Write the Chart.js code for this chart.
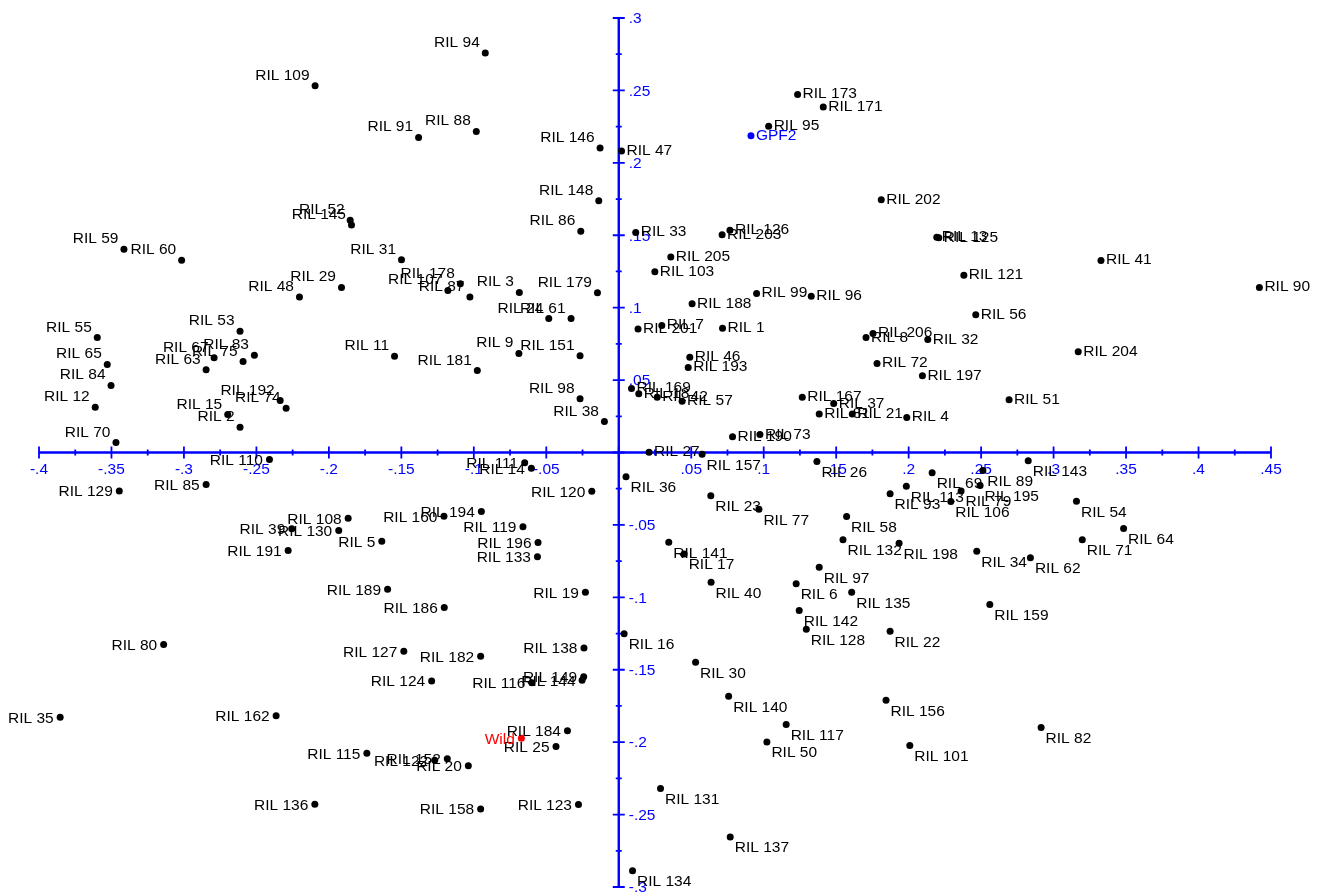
<!DOCTYPE html>
<html>
<head>
<meta charset="utf-8">
<title>RIL biplot</title>
<script src="https://cdn.jsdelivr.net/npm/chart.js@4.4.1/dist/chart.umd.min.js"></script>
<style>
  html, body { margin: 0; padding: 0; background: #fff; }
  #wrap { width: 1320px; height: 892px; position: relative; }
</style>
</head>
<body>
<div id="wrap"><canvas id="biplot"></canvas></div>
<script>
// RIL lines: names and their scores on the two axes
const rilNames = [
  'RIL 94', 'RIL 109', 'RIL 91', 'RIL 88', 'RIL 146', 'RIL 148', 'RIL 86', 'RIL 52', 'RIL 145', 'RIL 59',
  'RIL 60', 'RIL 31', 'RIL 29', 'RIL 48', 'RIL 178', 'RIL 107', 'RIL 87', 'RIL 3', 'RIL 179', 'RIL 24',
  'RIL 61', 'RIL 9', 'RIL 151', 'RIL 181', 'RIL 11', 'RIL 98', 'RIL 38', 'RIL 53', 'RIL 83', 'RIL 75',
  'RIL 67', 'RIL 63', 'RIL 55', 'RIL 65', 'RIL 84', 'RIL 12', 'RIL 70', 'RIL 192', 'RIL 74', 'RIL 15',
  'RIL 2', 'RIL 110', 'RIL 129', 'RIL 85', 'RIL 111', 'RIL 14', 'RIL 120', 'RIL 194', 'RIL 160', 'RIL 119',
  'RIL 196', 'RIL 133', 'RIL 19', 'RIL 108', 'RIL 39', 'RIL 130', 'RIL 5', 'RIL 191', 'RIL 189', 'RIL 186',
  'RIL 80', 'RIL 127', 'RIL 124', 'RIL 182', 'RIL 138', 'RIL 116', 'RIL 144', 'RIL 149', 'RIL 184', 'RIL 25',
  'RIL 20', 'RIL 152', 'RIL 122', 'RIL 115', 'RIL 162', 'RIL 35', 'RIL 136', 'RIL 158', 'RIL 123', 'RIL 47',
  'RIL 95', 'RIL 173', 'RIL 171', 'RIL 202', 'RIL 13', 'RIL 125', 'RIL 121', 'RIL 41', 'RIL 90', 'RIL 33',
  'RIL 126', 'RIL 203', 'RIL 205', 'RIL 103', 'RIL 188', 'RIL 99', 'RIL 96', 'RIL 56', 'RIL 206', 'RIL 8',
  'RIL 32', 'RIL 204', 'RIL 72', 'RIL 197', 'RIL 51', 'RIL 4', 'RIL 21', 'RIL 37', 'RIL 167', 'RIL 81',
  'RIL 1', 'RIL 201', 'RIL 7', 'RIL 46', 'RIL 193', 'RIL 169', 'RIL 18', 'RIL 42', 'RIL 57', 'RIL 190',
  'RIL 73', 'RIL 27', 'RIL 157', 'RIL 26', 'RIL 36', 'RIL 23', 'RIL 77', 'RIL 141', 'RIL 17', 'RIL 40',
  'RIL 58', 'RIL 132', 'RIL 97', 'RIL 6', 'RIL 135', 'RIL 142', 'RIL 128', 'RIL 30', 'RIL 140', 'RIL 117',
  'RIL 50', 'RIL 131', 'RIL 137', 'RIL 134', 'RIL 16', 'RIL 22', 'RIL 156', 'RIL 101', 'RIL 82', 'RIL 159',
  'RIL 198', 'RIL 34', 'RIL 62', 'RIL 71', 'RIL 64', 'RIL 54', 'RIL 143', 'RIL 89', 'RIL 69', 'RIL 195',
  'RIL 113', 'RIL 93', 'RIL 79', 'RIL 106'
];
const rilX = [
  -0.0921, -0.2095, -0.1381, -0.0983, -0.0129, -0.0138, -0.0262, -0.1853, -0.1844, -0.3414,
  -0.3016, -0.1499, -0.1913, -0.2203, -0.1093, -0.1179, -0.1027, -0.0686, -0.0147, -0.0483,
  -0.0329, -0.0689, -0.0267, -0.0976, -0.1547, -0.0267, -0.0099, -0.2613, -0.2514, -0.2592,
  -0.2792, -0.2847, -0.3598, -0.3529, -0.3503, -0.3612, -0.3469, -0.2336, -0.2295, -0.2698,
  -0.2613, -0.2410, -0.3446, -0.2847, -0.0649, -0.0603, -0.0186, -0.0948, -0.1206, -0.0661,
  -0.0557, -0.0561, -0.0230, -0.1867, -0.2256, -0.1932, -0.1635, -0.2281, -0.1595, -0.1204,
  -0.3140, -0.1483, -0.1291, -0.0953, -0.0240, -0.0599, -0.0253, -0.0242, -0.0354, -0.0433,
  -0.1038, -0.1183, -0.1270, -0.1738, -0.2364, -0.3854, -0.2097, -0.0953, -0.0278, 0.0019,
  0.1034, 0.1234, 0.1411, 0.1811, 0.2194, 0.2208, 0.2381, 0.3327, 0.4420, 0.0117,
  0.0767, 0.0713, 0.0359, 0.0249, 0.0506, 0.0951, 0.1328, 0.2463, 0.1754, 0.1706,
  0.2132, 0.3170, 0.1782, 0.2095, 0.2693, 0.1987, 0.1611, 0.1483, 0.1266, 0.1383,
  0.0716, 0.0133, 0.0297, 0.0490, 0.0479, 0.0088, 0.0138, 0.0265, 0.0437, 0.0785,
  0.0974, 0.0209, 0.0575, 0.1367, 0.0050, 0.0635, 0.0967, 0.0345, 0.0451, 0.0637,
  0.1572, 0.1547, 0.1383, 0.1224, 0.1607, 0.1245, 0.1294, 0.0530, 0.0758, 0.1155,
  0.1022, 0.0288, 0.0769, 0.0095, 0.0037, 0.1872, 0.1844, 0.2008, 0.2914, 0.2560,
  0.1934, 0.2470, 0.2840, 0.3198, 0.3483, 0.3158, 0.2825, 0.2512, 0.2162, 0.2493,
  0.1984, 0.1872, 0.2362, 0.2291
];
const rilY = [
  0.2758, 0.2532, 0.2175, 0.2217, 0.2102, 0.1738, 0.1528, 0.1604, 0.1570, 0.1404,
  0.1328, 0.1331, 0.1140, 0.1073, 0.1165, 0.1119, 0.1073, 0.1105, 0.1103, 0.0925,
  0.0925, 0.0684, 0.0668, 0.0566, 0.0665, 0.0371, 0.0214, 0.0838, 0.0672, 0.0628,
  0.0654, 0.0571, 0.0794, 0.0608, 0.0463, 0.0313, 0.0069, 0.0359, 0.0306, 0.0262,
  0.0175, -0.0048, -0.0265, -0.0221, -0.0071, -0.0108, -0.0267, -0.0407, -0.0440, -0.0513,
  -0.0622, -0.0720, -0.0965, -0.0454, -0.0527, -0.0539, -0.0613, -0.0677, -0.0944, -0.1070,
  -0.1326, -0.1372, -0.1577, -0.1407, -0.1349, -0.1590, -0.1573, -0.1549, -0.1922, -0.2030,
  -0.2162, -0.2115, -0.2125, -0.2077, -0.1818, -0.1828, -0.2429, -0.2461, -0.2431, 0.2081,
  0.2253, 0.2472, 0.2385, 0.1745, 0.1487, 0.1483, 0.1224, 0.1326, 0.1140, 0.1519,
  0.1535, 0.1503, 0.1349, 0.1248, 0.1027, 0.1098, 0.1079, 0.0951, 0.0822, 0.0794,
  0.0780, 0.0695, 0.0615, 0.0530, 0.0364, 0.0242, 0.0265, 0.0338, 0.0382, 0.0265,
  0.0858, 0.0852, 0.0877, 0.0658, 0.0587, 0.0442, 0.0405, 0.0382, 0.0354, 0.0108,
  0.0124, 0.0002, -0.0012, -0.0062, -0.0168, -0.0299, -0.0392, -0.0619, -0.0700, -0.0896,
  -0.0442, -0.0603, -0.0792, -0.0907, -0.0965, -0.1091, -0.1220, -0.1448, -0.1683, -0.1878,
  -0.1998, -0.2320, -0.2654, -0.2887, -0.1252, -0.1234, -0.1711, -0.2023, -0.1899, -0.1050,
  -0.0626, -0.0682, -0.0727, -0.0603, -0.0525, -0.0336, -0.0057, -0.0124, -0.0140, -0.0228,
  -0.0233, -0.0285, -0.0265, -0.0338
];

// parents
const parentNames = ['GPF2', 'Wild'];
const parentX = [0.0912, -0.0672];
const parentY = [0.2187, -0.1973];
const parentColors = ['#0000ff', '#ff0000'];

// axis ticks
const xTickValues = [-0.4, -0.35, -0.3, -0.25, -0.2, -0.15, -0.1, -0.05, 0, 0.05, 0.1, 0.15, 0.2, 0.25, 0.3, 0.35, 0.4, 0.45];
const xTickLabels = ['-.4', '-.35', '-.3', '-.25', '-.2', '-.15', '-.1', '-.05', '', '.05', '.1', '.15', '.2', '.25', '.3', '.35', '.4', '.45'];
const yTickValues = [0.3, 0.25, 0.2, 0.15, 0.1, 0.05, 0, -0.05, -0.1, -0.15, -0.2, -0.25, -0.3];
const yTickLabels = ['.3', '.25', '.2', '.15', '.1', '.05', '', '-.05', '-.1', '-.15', '-.2', '-.25', '-.3'];

const AXIS_BLUE = '#0000ff';
const FONT = '"Liberation Sans", Arial, Helvetica, sans-serif';

const rilPoints = rilNames.map((n, i) => ({ x: rilX[i], y: rilY[i], name: n }));
const parentPoints = parentNames.map((n, i) => ({ x: parentX[i], y: parentY[i], name: n }));

// axes crossing at the origin, with major and minor ticks on both sides
const crossAxes = {
  id: 'crossAxes',
  beforeDatasetsDraw(chart) {
    const ctx = chart.ctx;
    const xs = chart.scales.x, ys = chart.scales.y;
    const x0 = xs.getPixelForValue(0), y0 = ys.getPixelForValue(0);
    ctx.save();
    ctx.strokeStyle = AXIS_BLUE;
    ctx.fillStyle = AXIS_BLUE;
    ctx.lineWidth = 2.4;
    ctx.beginPath();
    ctx.moveTo(xs.getPixelForValue(xTickValues[0]), y0);
    ctx.lineTo(xs.getPixelForValue(xTickValues[xTickValues.length - 1]), y0);
    ctx.moveTo(x0, ys.getPixelForValue(yTickValues[0]));
    ctx.lineTo(x0, ys.getPixelForValue(yTickValues[yTickValues.length - 1]));
    ctx.stroke();

    ctx.lineWidth = 1.8;
    ctx.beginPath();
    xTickValues.forEach((v, i) => {
      const px = xs.getPixelForValue(v);
      ctx.moveTo(px, y0 - 6); ctx.lineTo(px, y0 + 6);
      if (i < xTickValues.length - 1) {
        const mx = xs.getPixelForValue((v + xTickValues[i + 1]) / 2);
        ctx.moveTo(mx, y0 - 3); ctx.lineTo(mx, y0 + 3);
      }
    });
    yTickValues.forEach((v, i) => {
      const py = ys.getPixelForValue(v);
      ctx.moveTo(x0 - 6, py); ctx.lineTo(x0 + 6, py);
      if (i < yTickValues.length - 1) {
        const my = ys.getPixelForValue((v + yTickValues[i + 1]) / 2);
        ctx.moveTo(x0 - 3, my); ctx.lineTo(x0 + 3, my);
      }
    });
    ctx.stroke();

    ctx.font = '15.5px ' + FONT;
    ctx.textBaseline = 'middle';
    ctx.textAlign = 'center';
    xTickValues.forEach((v, i) => {
      if (xTickLabels[i]) ctx.fillText(xTickLabels[i], xs.getPixelForValue(v), y0 + 17);
    });
    ctx.textAlign = 'left';
    yTickValues.forEach((v, i) => {
      if (yTickLabels[i]) ctx.fillText(yTickLabels[i], x0 + 10, ys.getPixelForValue(v) + 1);
    });
    ctx.restore();
  }
};

// marker labels, placed by quadrant
const pointLabels = {
  id: 'pointLabels',
  afterDatasetsDraw(chart) {
    const ctx = chart.ctx;
    ctx.save();
    ctx.font = '15.5px ' + FONT;
    ctx.textBaseline = 'alphabetic';
    chart.data.datasets.forEach((ds, di) => {
      const meta = chart.getDatasetMeta(di);
      meta.data.forEach((el, i) => {
        const p = ds.data[i];
        const col = Array.isArray(ds.labelColor) ? ds.labelColor[i] : ds.labelColor;
        ctx.fillStyle = col;
        if (p.x >= 0 && p.y >= 0) {
          ctx.textAlign = 'left';
          ctx.fillText(p.name, el.x + 5, el.y + 4);
        } else if (p.x >= 0) {
          ctx.textAlign = 'left';
          ctx.fillText(p.name, el.x + 4.5, el.y + 15.5);
        } else if (p.y >= 0) {
          ctx.textAlign = 'right';
          ctx.fillText(p.name, el.x - 5.5, el.y - 6);
        } else {
          ctx.textAlign = 'right';
          ctx.fillText(p.name, el.x - 6.5, el.y + 5.5);
        }
      });
    });
    ctx.restore();
  }
};

new Chart(document.getElementById('biplot'), {
  type: 'scatter',
  data: {
    datasets: [
      {
        label: 'RIL',
        data: rilPoints,
        backgroundColor: '#000000',
        borderColor: '#000000',
        labelColor: '#000000',
        pointRadius: 3.5,
        pointBorderWidth: 0,
        clip: false
      },
      {
        label: 'Parents',
        data: parentPoints,
        backgroundColor: parentColors,
        borderColor: parentColors,
        labelColor: parentColors,
        pointRadius: 3.5,
        pointBorderWidth: 0,
        clip: false
      }
    ]
  },
  options: {
    responsive: true,
    maintainAspectRatio: false,
    animation: false,
    layout: { padding: { left: 39, right: 49, top: 18, bottom: 5 } },
    plugins: {
      legend: { display: false },
      tooltip: { enabled: false }
    },
    scales: {
      x: { type: 'linear', min: -0.4, max: 0.45, display: false },
      y: { type: 'linear', min: -0.3, max: 0.3, display: false }
    }
  },
  plugins: [crossAxes, pointLabels]
});
</script>
</body>
</html>
